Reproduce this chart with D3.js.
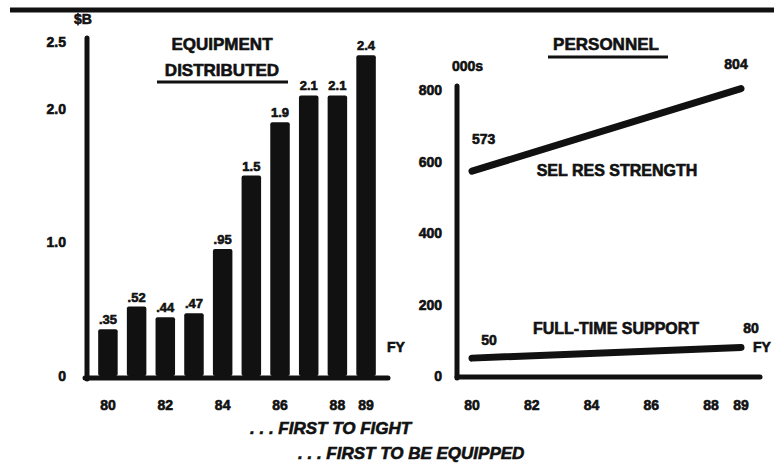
<!DOCTYPE html>
<html>
  <head>
    <meta charset="utf-8">
    <title>First to Fight, First to be Equipped</title>
    <script src="https://cdn.jsdelivr.net/npm/d3@7"></script>
    <style>
      body { margin: 0; background: #fff; }
      svg text { font-family: "Liberation Sans", Arial, sans-serif; font-weight: bold; fill: #111; stroke: #111; stroke-width: 0.6px; }
    </style>
  </head>
  <body>
    <svg id="chart" width="774" height="469"></svg>
    <script>
// equipment distributed, $B by fiscal year
const years = [80, 81, 82, 83, 84, 85, 86, 87, 88, 89];
const equipment = [0.35, 0.52, 0.44, 0.47, 0.95, 1.5, 1.9, 2.1, 2.1, 2.4];
const equipmentLabels = ['.35', '.52', '.44', '.47', '.95', '1.5', '1.9', '2.1', '2.1', '2.4'];
const equipTicks = [0, 1.0, 2.0, 2.5];
const equipTickLabels = ['0', '1.0', '2.0', '2.5'];
const yearTicks = [80, 82, 84, 86, 88, 89];

// personnel, thousands
const personnelTicks = [0, 200, 400, 600, 800];
const selResYears = [80, 89];
const selRes = [573, 804];
const fullTimeYears = [80, 89];
const fullTime = [50, 80];

const ink = '#111';
let svg = d3.select('#chart');

// thick rule across the top
svg.append('line')
  .attr('x1', 10).attr('x2', 774)
  .attr('y1', 10).attr('y2', 10)
  .attr('stroke', ink).attr('stroke-width', 5);

// ---------- left: equipment bars ----------
let xBand = d3.scaleBand()
  .domain(years)
  .range([89, 385])
  .padding(0.32);

let yEq = d3.scaleLinear()
  .domain([0, 2.5])
  .range([376, 42]);

let left = svg.append('g');

left.selectAll('rect.bar')
  .data(equipment)
  .enter()
  .append('rect')
  .attr('class', 'bar')
  .attr('x', (d, i) => xBand(years[i]))
  .attr('width', xBand.bandwidth())
  .attr('y', d => yEq(d))
  .attr('height', d => yEq(0) - yEq(d))
  .attr('rx', 2)
  .attr('fill', ink);

left.selectAll('text.val')
  .data(equipment)
  .enter()
  .append('text')
  .attr('class', 'val')
  .attr('x', (d, i) => xBand(years[i]) + xBand.bandwidth() / 2)
  .attr('y', d => yEq(d) - 5)
  .attr('text-anchor', 'middle')
  .attr('font-size', 13)
  .text((d, i) => equipmentLabels[i]);

// axes drawn as heavy strokes
left.append('line')
  .attr('x1', 87).attr('x2', 87)
  .attr('y1', 38).attr('y2', yEq(0) + 3)
  .attr('stroke', ink).attr('stroke-width', 5).attr('stroke-linecap', 'round');
left.append('line')
  .attr('x1', 85).attr('x2', 388)
  .attr('y1', yEq(0) + 2).attr('y2', yEq(0) + 2)
  .attr('stroke', ink).attr('stroke-width', 5).attr('stroke-linecap', 'round');

left.selectAll('text.ytick')
  .data(equipTicks)
  .enter()
  .append('text')
  .attr('class', 'ytick')
  .attr('x', 66)
  .attr('y', d => yEq(d) + 5)
  .attr('text-anchor', 'end')
  .attr('font-size', 14)
  .text((d, i) => equipTickLabels[i]);

left.append('text')
  .attr('x', 83).attr('y', 24)
  .attr('text-anchor', 'middle')
  .attr('font-size', 14)
  .text('$B');

left.selectAll('text.xtick')
  .data(yearTicks)
  .enter()
  .append('text')
  .attr('class', 'xtick')
  .attr('x', d => xBand(d) + xBand.bandwidth() / 2)
  .attr('y', 410)
  .attr('text-anchor', 'middle')
  .attr('font-size', 14)
  .text(d => d);

left.append('text')
  .attr('x', 387).attr('y', 352)
  .attr('font-size', 14)
  .text('FY');

left.append('text')
  .attr('x', 222).attr('y', 50)
  .attr('text-anchor', 'middle')
  .attr('font-size', 17)
  .text('EQUIPMENT');
left.append('text')
  .attr('x', 222).attr('y', 76)
  .attr('text-anchor', 'middle')
  .attr('font-size', 17)
  .text('DISTRIBUTED');
left.append('line')
  .attr('x1', 157).attr('x2', 288)
  .attr('y1', 82).attr('y2', 82)
  .attr('stroke', ink).attr('stroke-width', 3);

// ---------- right: personnel lines ----------
let xYear = d3.scaleLinear()
  .domain([80, 89])
  .range([472, 741]);

let yPer = d3.scaleLinear()
  .domain([0, 800])
  .range([376, 90]);

let right = svg.append('g');

right.append('line')
  .attr('x1', 457).attr('x2', 457)
  .attr('y1', 86).attr('y2', yPer(0) + 2)
  .attr('stroke', ink).attr('stroke-width', 5).attr('stroke-linecap', 'round');
right.append('line')
  .attr('x1', 457).attr('x2', 760)
  .attr('y1', yPer(0) + 1).attr('y2', yPer(0) + 1)
  .attr('stroke', ink).attr('stroke-width', 5).attr('stroke-linecap', 'round');

right.selectAll('text.ytick')
  .data(personnelTicks)
  .enter()
  .append('text')
  .attr('class', 'ytick')
  .attr('x', 442)
  .attr('y', d => yPer(d) + 5)
  .attr('text-anchor', 'end')
  .attr('font-size', 14)
  .text(d => d);

right.append('text')
  .attr('x', 452).attr('y', 71)
  .attr('font-size', 14)
  .text('000s');

right.selectAll('text.xtick')
  .data(yearTicks)
  .enter()
  .append('text')
  .attr('class', 'xtick')
  .attr('x', d => xYear(d))
  .attr('y', 410)
  .attr('text-anchor', 'middle')
  .attr('font-size', 14)
  .text(d => d);

let line = d3.line()
  .x(d => xYear(d[0]))
  .y(d => yPer(d[1]));

right.append('path')
  .datum(d3.zip(selResYears, selRes))
  .attr('d', line)
  .attr('fill', 'none')
  .attr('stroke', ink).attr('stroke-width', 7).attr('stroke-linecap', 'round');

right.append('path')
  .datum(d3.zip(fullTimeYears, fullTime))
  .attr('d', line)
  .attr('fill', 'none')
  .attr('stroke', ink).attr('stroke-width', 7).attr('stroke-linecap', 'round');

right.append('text')
  .attr('x', xYear(selResYears[0])).attr('y', yPer(selRes[0]) - 27)
  .attr('font-size', 14)
  .text(selRes[0]);
right.append('text')
  .attr('x', xYear(selResYears[1]) - 5).attr('y', yPer(selRes[1]) - 20)
  .attr('text-anchor', 'middle')
  .attr('font-size', 14)
  .text(selRes[1]);
right.append('text')
  .attr('x', 617).attr('y', 176)
  .attr('text-anchor', 'middle')
  .attr('font-size', 16)
  .text('SEL RES STRENGTH');

right.append('text')
  .attr('x', xYear(fullTimeYears[0]) + 17).attr('y', yPer(fullTime[0]) - 13)
  .attr('text-anchor', 'middle')
  .attr('font-size', 14)
  .text(fullTime[0]);
right.append('text')
  .attr('x', xYear(fullTimeYears[1]) + 10).attr('y', 333)
  .attr('text-anchor', 'middle')
  .attr('font-size', 14)
  .text(fullTime[1]);
right.append('text')
  .attr('x', 616).attr('y', 334)
  .attr('text-anchor', 'middle')
  .attr('font-size', 16)
  .text('FULL-TIME SUPPORT');
right.append('text')
  .attr('x', 753).attr('y', 352)
  .attr('font-size', 14)
  .text('FY');

right.append('text')
  .attr('x', 606).attr('y', 50)
  .attr('text-anchor', 'middle')
  .attr('font-size', 17)
  .text('PERSONNEL');
right.append('line')
  .attr('x1', 548).attr('x2', 668)
  .attr('y1', 57).attr('y2', 57)
  .attr('stroke', ink).attr('stroke-width', 3);

// ---------- slogans ----------
svg.append('text')
  .attr('x', 250).attr('y', 434)
  .attr('font-size', 17)
  .attr('font-style', 'italic')
  .text('. . . FIRST TO FIGHT');
svg.append('text')
  .attr('x', 298).attr('y', 459)
  .attr('font-size', 17)
  .attr('font-style', 'italic')
  .text('. . . FIRST TO BE EQUIPPED');
    </script>
  </body>
</html>
